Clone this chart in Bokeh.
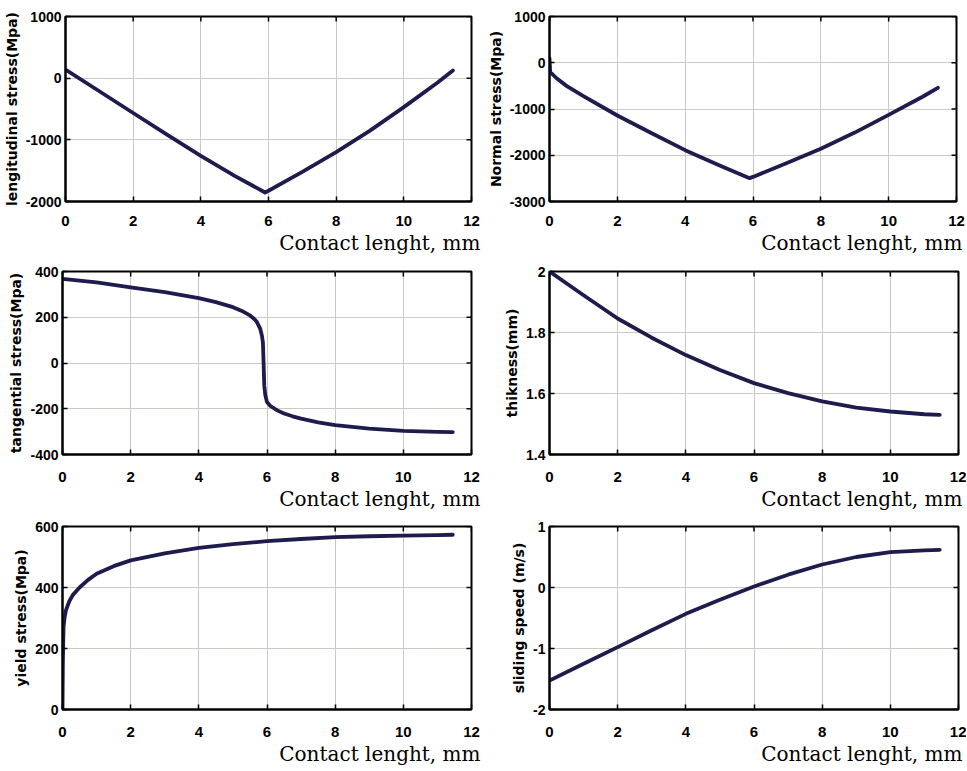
import math
from bokeh.plotting import figure
from bokeh.models import Range1d, FixedTicker, Title
from bokeh.layouts import column, row
from bokeh.embed import file_html
from bokeh.resources import INLINE

# ---------------- data ----------------
x_ticks = [0, 2, 4, 6, 8, 10, 12]
x_label = "Contact lenght, mm"

long_x = [0, 1, 2, 3, 4, 5, 5.9, 6, 7, 8, 9, 10, 11, 11.45]
long_y = [140, -212, -565, -915, -1260, -1585, -1854, -1825, -1520, -1200, -850, -470, -70, 124]
long_ticks = [-2000, -1000, 0, 1000]
long_tick_labels = ["-2000", "-1000", "0", "1000"]

norm_x = [0, 0.02, 0.2, 0.5, 1, 2, 3, 4, 5, 5.9, 6, 7, 8, 9, 10, 11, 11.45]
norm_y = [100, -200, -330, -500, -720, -1141, -1520, -1890, -2215, -2495, -2468, -2170, -1861, -1510, -1126, -735, -542]
norm_ticks = [-3000, -2000, -1000, 0, 1000]
norm_tick_labels = ["-3000", "-2000", "-1000", "0", "1000"]

tang_x = [0, 1, 2, 3, 4, 4.5, 5, 5.3, 5.5, 5.6, 5.7, 5.8, 5.85, 5.88, 5.9, 5.92, 5.95, 6, 6.1, 6.3, 6.5, 6.75, 7, 7.5, 8, 9, 10, 11, 11.45]
tang_y = [368, 352, 331, 310, 284, 266, 244, 225, 208, 196, 180, 150, 120, 90, 0, -100, -140, -171, -188, -207, -221, -233, -243, -260, -272, -287, -297, -301, -302]
tang_ticks = [-400, -200, 0, 200, 400]
tang_tick_labels = ["-400", "-200", "0", "200", "400"]

thick_x = [0, 1, 2, 3, 4, 5, 6, 7, 8, 9, 10, 11, 11.45]
thick_y = [2.0, 1.922, 1.846, 1.783, 1.726, 1.677, 1.634, 1.601, 1.574, 1.554, 1.541, 1.532, 1.530]
thick_ticks = [1.4, 1.6, 1.8, 2.0]
thick_tick_labels = ["1.4", "1.6", "1.8", "2"]

yield_x = [0, 0.01, 0.03, 0.06, 0.1, 0.2, 0.3, 0.5, 0.75, 1, 1.5, 2, 3, 4, 5, 6, 7, 8, 9, 10, 11, 11.45]
yield_y = [0, 150, 270, 300, 325, 355, 375, 400, 425, 445, 470, 489, 512, 530, 542, 552, 559, 565, 568, 570, 572, 573]
yield_ticks = [0, 200, 400, 600]
yield_tick_labels = ["0", "200", "400", "600"]

slide_x = [0, 1, 2, 3, 4, 5, 6, 7, 8, 9, 10, 11, 11.45]
slide_y = [-1.525, -1.25, -0.978, -0.70, -0.432, -0.20, 0.016, 0.21, 0.377, 0.50, 0.579, 0.61, 0.618]
slide_ticks = [-2, -1, 0, 1]
slide_tick_labels = ["-2", "-1", "0", "1"]

panels = [
    dict(xs=long_x, ys=long_y, yt=long_ticks, ytl=long_tick_labels,
         ylabel="lengitudinal stress(Mpa)"),
    dict(xs=norm_x, ys=norm_y, yt=norm_ticks, ytl=norm_tick_labels,
         ylabel="Normal stress(Mpa)"),
    dict(xs=tang_x, ys=tang_y, yt=tang_ticks, ytl=tang_tick_labels,
         ylabel="tangential stress(Mpa)"),
    dict(xs=thick_x, ys=thick_y, yt=thick_ticks, ytl=thick_tick_labels,
         ylabel="thikness(mm)"),
    dict(xs=yield_x, ys=yield_y, yt=yield_ticks, ytl=yield_tick_labels,
         ylabel="yield stress(Mpa)"),
    dict(xs=slide_x, ys=slide_y, yt=slide_ticks, ytl=slide_tick_labels,
         ylabel="sliding speed (m/s)"),
]

# ---------------- layout / style ----------------
LINE_COLOR = "#1e1b4d"
GRID_COLOR = "#cdc8c2"
TICK_FONT = "Liberation Sans"
YLAB_FONT = "DejaVu Sans"
XLAB_FONT = "DejaVu Serif"

row_specs = [  # height, border top, border bottom, x tick label standoff
    (258, 16, 57, 14),
    (256, 13, 60, 17),
    (256, 12, 61, 17),
]
col_specs = [  # width, border left, border right, title offset
    [(484, 62, 13, -9), (482, 63, 10, -6)],
    [(484, 62, 13, -9), (482, 65, 8, -4)],
    [(484, 62, 13, -9), (482, 65, 8, -4)],
]


def make_panel(pd, rs, cs):
    h, bt, bb, xstand = rs
    w, bl, br, toff = cs
    yt_vals = pd["yt"]
    p = figure(width=w, height=h, output_backend="svg", toolbar_location=None,
               x_range=Range1d(x_ticks[0], x_ticks[-1]),
               y_range=Range1d(yt_vals[0], yt_vals[-1]),
               min_border_left=bl, min_border_right=br,
               min_border_top=bt, min_border_bottom=bb,
               background_fill_color="white", border_fill_color="white")
    p.outline_line_color = "black"
    p.outline_line_width = 2

    xt = FixedTicker(ticks=x_ticks)
    yt = FixedTicker(ticks=yt_vals)
    p.xaxis.ticker = xt
    p.yaxis.ticker = yt
    p.xgrid.ticker = xt
    p.ygrid.ticker = yt
    p.yaxis.major_label_overrides = dict(zip(yt_vals, pd["ytl"]))
    for g in (p.xgrid, p.ygrid):
        g.grid_line_color = GRID_COLOR
        g.grid_line_width = 1

    for ax in (p.xaxis, p.yaxis):
        ax.axis_line_color = "black"
        ax.axis_line_width = 2
        ax.major_tick_in = 5
        ax.major_tick_out = 0
        ax.major_tick_line_width = 1.5
        ax.minor_tick_line_color = None
        ax.major_label_text_font = TICK_FONT
        ax.major_label_text_font_style = "bold"
        ax.major_label_text_color = "black"
    p.xaxis.major_label_text_font_size = "15px"
    p.yaxis.major_label_text_font_size = "14px"
    p.xaxis.major_label_standoff = xstand
    p.yaxis.major_label_standoff = 4
    p.yaxis.axis_label = pd["ylabel"]
    p.yaxis.axis_label_text_font = YLAB_FONT
    p.yaxis.axis_label_text_font_size = "14px"
    p.yaxis.axis_label_text_font_style = "bold"
    p.yaxis.axis_label_text_color = "black"
    p.yaxis.axis_label_standoff = 3

    # inward ticks on the top and right edges (half of each dash is clipped by the frame)
    n_x = len(x_ticks)
    n_y = len(yt_vals)
    p.scatter(x_ticks, [yt_vals[-1]] * n_x, marker="dash", size=10, angle=math.pi / 2,
              line_color="black", line_width=1.5)
    p.scatter([x_ticks[-1]] * n_y, yt_vals, marker="dash", size=10,
              line_color="black", line_width=1.5)

    p.line(pd["xs"], pd["ys"], line_color=LINE_COLOR, line_width=3.8,
           line_join="round", line_cap="round")

    p.add_layout(Title(text=x_label, align="right", offset=toff, standoff=0,
                       text_font=XLAB_FONT, text_font_size="20px",
                       text_font_style="normal", text_color="black"), "below")
    return p


rows = []
for r in range(3):
    figs = []
    for c in range(2):
        figs.append(make_panel(panels[2 * r + c], row_specs[r], col_specs[r][c]))
    rows.append(row(*figs))

layout = column(*rows)

open("out.html", "w").write(file_html(layout, INLINE))
